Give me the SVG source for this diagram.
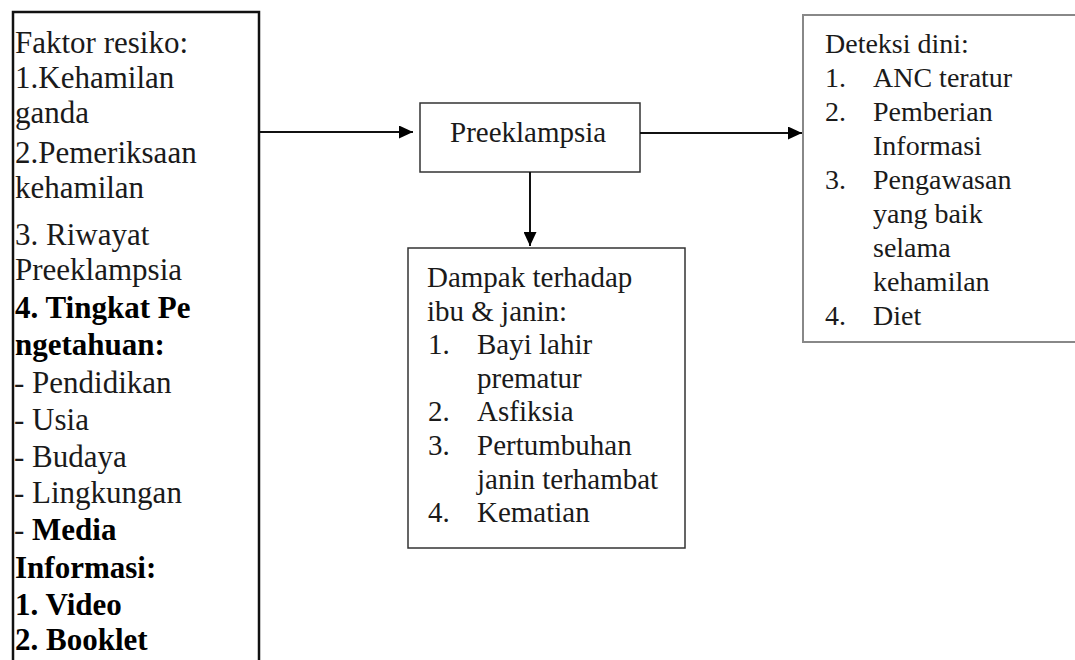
<svg xmlns="http://www.w3.org/2000/svg" width="1075" height="660" viewBox="0 0 1075 660">
<defs>
<style>
.t{font-family:"Liberation Serif","Times New Roman",serif;fill:#1a1a1a}
.l{font-size:31px}
.b{font-weight:bold;fill:#000}
.c{font-size:29px}
.d{font-size:28px}
.box{fill:#fff}
.conn{stroke:#111;stroke-width:2;fill:none}
</style>
<marker id="ah" viewBox="0 0 14 13" refX="14" refY="6.5" markerWidth="14" markerHeight="13" markerUnits="userSpaceOnUse" orient="auto">
<path d="M0,0 L14,6.5 L0,13 Z" fill="#000"/>
</marker>
</defs>
<rect width="1075" height="660" fill="#fff"/>
<g id="faktor">
<rect class="box" x="13" y="12" width="246" height="700" stroke="#111" stroke-width="2.5"/>
<text class="t l" x="15" y="53">Faktor resiko:</text>
<text class="t l" x="15" y="88">1.Kehamilan</text>
<text class="t l" x="15" y="123">ganda</text>
<text class="t l" x="15" y="163">2.Pemeriksaan</text>
<text class="t l" x="15" y="198">kehamilan</text>
<text class="t l" x="15" y="245">3. Riwayat</text>
<text class="t l" x="15" y="280">Preeklampsia</text>
<text class="t l b" x="15" y="318">4. Tingkat Pe</text>
<text class="t l b" x="15" y="355">ngetahuan:</text>
<text class="t l" x="14" y="393">- Pendidikan</text>
<text class="t l" x="14" y="430">- Usia</text>
<text class="t l" x="14" y="467">- Budaya</text>
<text class="t l" x="14" y="503">- Lingkungan</text>
<text class="t l" x="14" y="540">- <tspan class="b">Media</tspan></text>
<text class="t l b" x="15" y="578">Informasi:</text>
<text class="t l b" x="15" y="615">1. Video</text>
<text class="t l b" x="15" y="650">2. Booklet</text>
</g>
<g id="preeklampsia">
<rect class="box" x="420" y="103" width="220" height="69" stroke="#333" stroke-width="1.5"/>
<text class="t c" x="450" y="142">Preeklampsia</text>
</g>
<g id="dampak">
<rect class="box" x="408" y="248" width="277" height="300" stroke="#333" stroke-width="1.5"/>
<text class="t c" x="427" y="287">Dampak terhadap</text>
<text class="t c" x="427" y="321">ibu &amp; janin:</text>
<text class="t c" x="428" y="354">1.</text><text class="t c" x="477" y="354">Bayi lahir</text>
<text class="t c" x="477" y="388">prematur</text>
<text class="t c" x="428" y="421">2.</text><text class="t c" x="477" y="421">Asfiksia</text>
<text class="t c" x="428" y="455">3.</text><text class="t c" x="477" y="455">Pertumbuhan</text>
<text class="t c" x="477" y="489">janin terhambat</text>
<text class="t c" x="428" y="522">4.</text><text class="t c" x="477" y="522">Kematian</text>
</g>
<g id="deteksi">
<rect class="box" x="803" y="15" width="290" height="327" stroke="#888" stroke-width="2"/>
<text class="t d" x="825" y="53">Deteksi dini:</text>
<text class="t d" x="825" y="87">1.</text><text class="t d" x="873" y="87">ANC teratur</text>
<text class="t d" x="825" y="121">2.</text><text class="t d" x="873" y="121">Pemberian</text>
<text class="t d" x="873" y="155">Informasi</text>
<text class="t d" x="825" y="189">3.</text><text class="t d" x="873" y="189">Pengawasan</text>
<text class="t d" x="873" y="223">yang baik</text>
<text class="t d" x="873" y="257">selama</text>
<text class="t d" x="873" y="291">kehamilan</text>
<text class="t d" x="825" y="325">4.</text><text class="t d" x="873" y="325">Diet</text>
</g>
<g id="connectors">
<line class="conn" x1="259" y1="132" x2="413" y2="132" marker-end="url(#ah)"/>
<line class="conn" x1="640" y1="133" x2="802" y2="133" marker-end="url(#ah)"/>
<line class="conn" x1="530" y1="172" x2="530" y2="246" marker-end="url(#ah)"/>
</g>
</svg>
